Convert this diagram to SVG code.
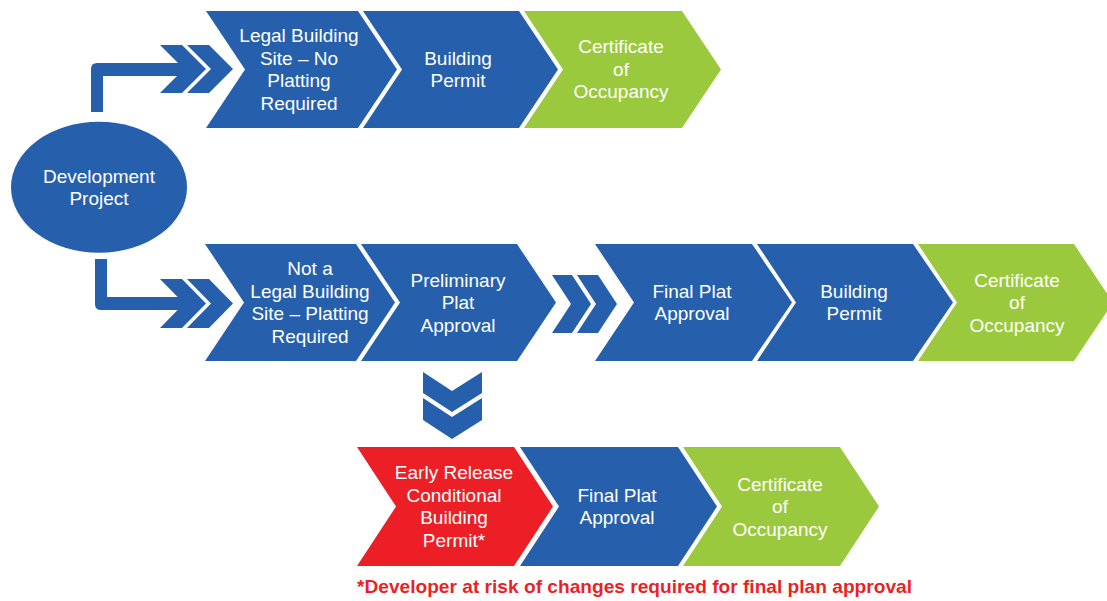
<svg xmlns="http://www.w3.org/2000/svg" width="1107" height="601" viewBox="0 0 1107 601">
<style>
.blue{fill:#2660AD}
.green{fill:#9BC93D}
.red{fill:#ED1F26}
.conn{fill:#2660AD}
text{font-family:"Liberation Sans",Arial,sans-serif;font-size:19px;fill:#FFFFFF;text-anchor:middle}
.note{font-size:19px;font-weight:bold;fill:#ED1F26;text-anchor:start}
</style>
<rect width="1107" height="601" fill="#FFFFFF"/>

<g id="connectors">
  <path class="conn" d="M91,112 V69 Q91,63 97,63 H187 V76 H103 V112 Z"/>
  <polygon class="conn" points="160,45 182,45 206,69 182,93 160,93 184,69"/>
  <polygon class="conn" points="187,45 209,45 233,69 209,93 187,93 211,69"/>
  <path class="conn" d="M95,259 H107 V297 H187 V310 H101 Q95,310 95,304 Z"/>
  <polygon class="conn" points="160,279 182,279 206,303.5 182,328 160,328 184,303.5"/>
  <polygon class="conn" points="187,279 209,279 233,303.5 209,328 187,328 211,303.5"/>
  <polygon class="conn" points="552,275 572,275 591,304 572,333 552,333 571,304"/>
  <polygon class="conn" points="577,275 598,275 617,304 598,333 577,333 596,304"/>
  <polygon class="conn" points="423,372 452,391 482,372 482,393 452,412 423,393"/>
  <polygon class="conn" points="423,398 452,417 482,398 482,420 452,439 423,420"/>
</g>

<g id="dev-project">
  <ellipse class="blue" cx="99" cy="187.3" rx="88" ry="65.5"/>
  <text x="99" y="182.5">Development</text>
  <text x="99" y="205">Project</text>
</g>

<g id="legal-site">
  <polygon class="blue" points="206,11 358,11 397,69.5 358,128 206,128 245,69.5"/>
  <text x="299" y="42">Legal Building</text>
  <text x="299" y="64.5">Site – No</text>
  <text x="299" y="87">Platting</text>
  <text x="299" y="109.5">Required</text>
</g>
<g id="top-permit">
  <polygon class="blue" points="363,11 519,11 558,69.5 519,128 363,128 402,69.5"/>
  <text x="458" y="65">Building</text>
  <text x="458" y="87.3">Permit</text>
</g>
<g id="top-cert">
  <polygon class="green" points="524,11 682,11 721,69.5 682,128 524,128 563,69.5"/>
  <text x="621" y="53.3">Certificate</text>
  <text x="621" y="76">of</text>
  <text x="621" y="98.3">Occupancy</text>
</g>

<g id="not-legal-site">
  <polygon class="blue" points="205,244 356,244 395,302.5 356,361 205,361 244,302.5"/>
  <text x="310" y="275">Not a</text>
  <text x="310" y="297.5">Legal Building</text>
  <text x="310" y="320">Site – Platting</text>
  <text x="310" y="342.5">Required</text>
</g>
<g id="prelim-plat">
  <polygon class="blue" points="361,244 517,244 556,302.5 517,361 361,361 400,302.5"/>
  <text x="458" y="286.5">Preliminary</text>
  <text x="458" y="309">Plat</text>
  <text x="458" y="331.5">Approval</text>
</g>
<g id="mid-final-plat">
  <polygon class="blue" points="595,244 752,244 792,302.5 752,361 595,361 634,302.5"/>
  <text x="692" y="297.8">Final Plat</text>
  <text x="692" y="320.3">Approval</text>
</g>
<g id="mid-permit">
  <polygon class="blue" points="757,244 913,244 953,302.5 913,361 757,361 796,302.5"/>
  <text x="854" y="297.8">Building</text>
  <text x="854" y="320.3">Permit</text>
</g>
<g id="mid-cert">
  <polygon class="green" points="918,244 1074,244 1113,302.5 1074,361 918,361 957,302.5"/>
  <text x="1017" y="286.5">Certificate</text>
  <text x="1017" y="309">of</text>
  <text x="1017" y="331.5">Occupancy</text>
</g>

<g id="early-release">
  <polygon class="red" points="357,447 514,447 553,506.5 514,566 357,566 396,506.5"/>
  <text x="454" y="479">Early Release</text>
  <text x="454" y="501.8">Conditional</text>
  <text x="454" y="524.3">Building</text>
  <text x="454" y="546.8">Permit*</text>
</g>
<g id="bottom-final-plat">
  <polygon class="blue" points="520,447 678,447 717,506.5 678,566 520,566 559,506.5"/>
  <text x="617" y="501.8">Final Plat</text>
  <text x="617" y="524.3">Approval</text>
</g>
<g id="bottom-cert">
  <polygon class="green" points="683,447 840,447 879,506.5 840,566 683,566 722,506.5"/>
  <text x="780" y="490.5">Certificate</text>
  <text x="780" y="513">of</text>
  <text x="780" y="535.5">Occupancy</text>
</g>

<g id="footnote">
  <text class="note" x="357" y="593" textLength="555" lengthAdjust="spacingAndGlyphs">*Developer at risk of changes required for final plan approval</text>
</g>
</svg>
